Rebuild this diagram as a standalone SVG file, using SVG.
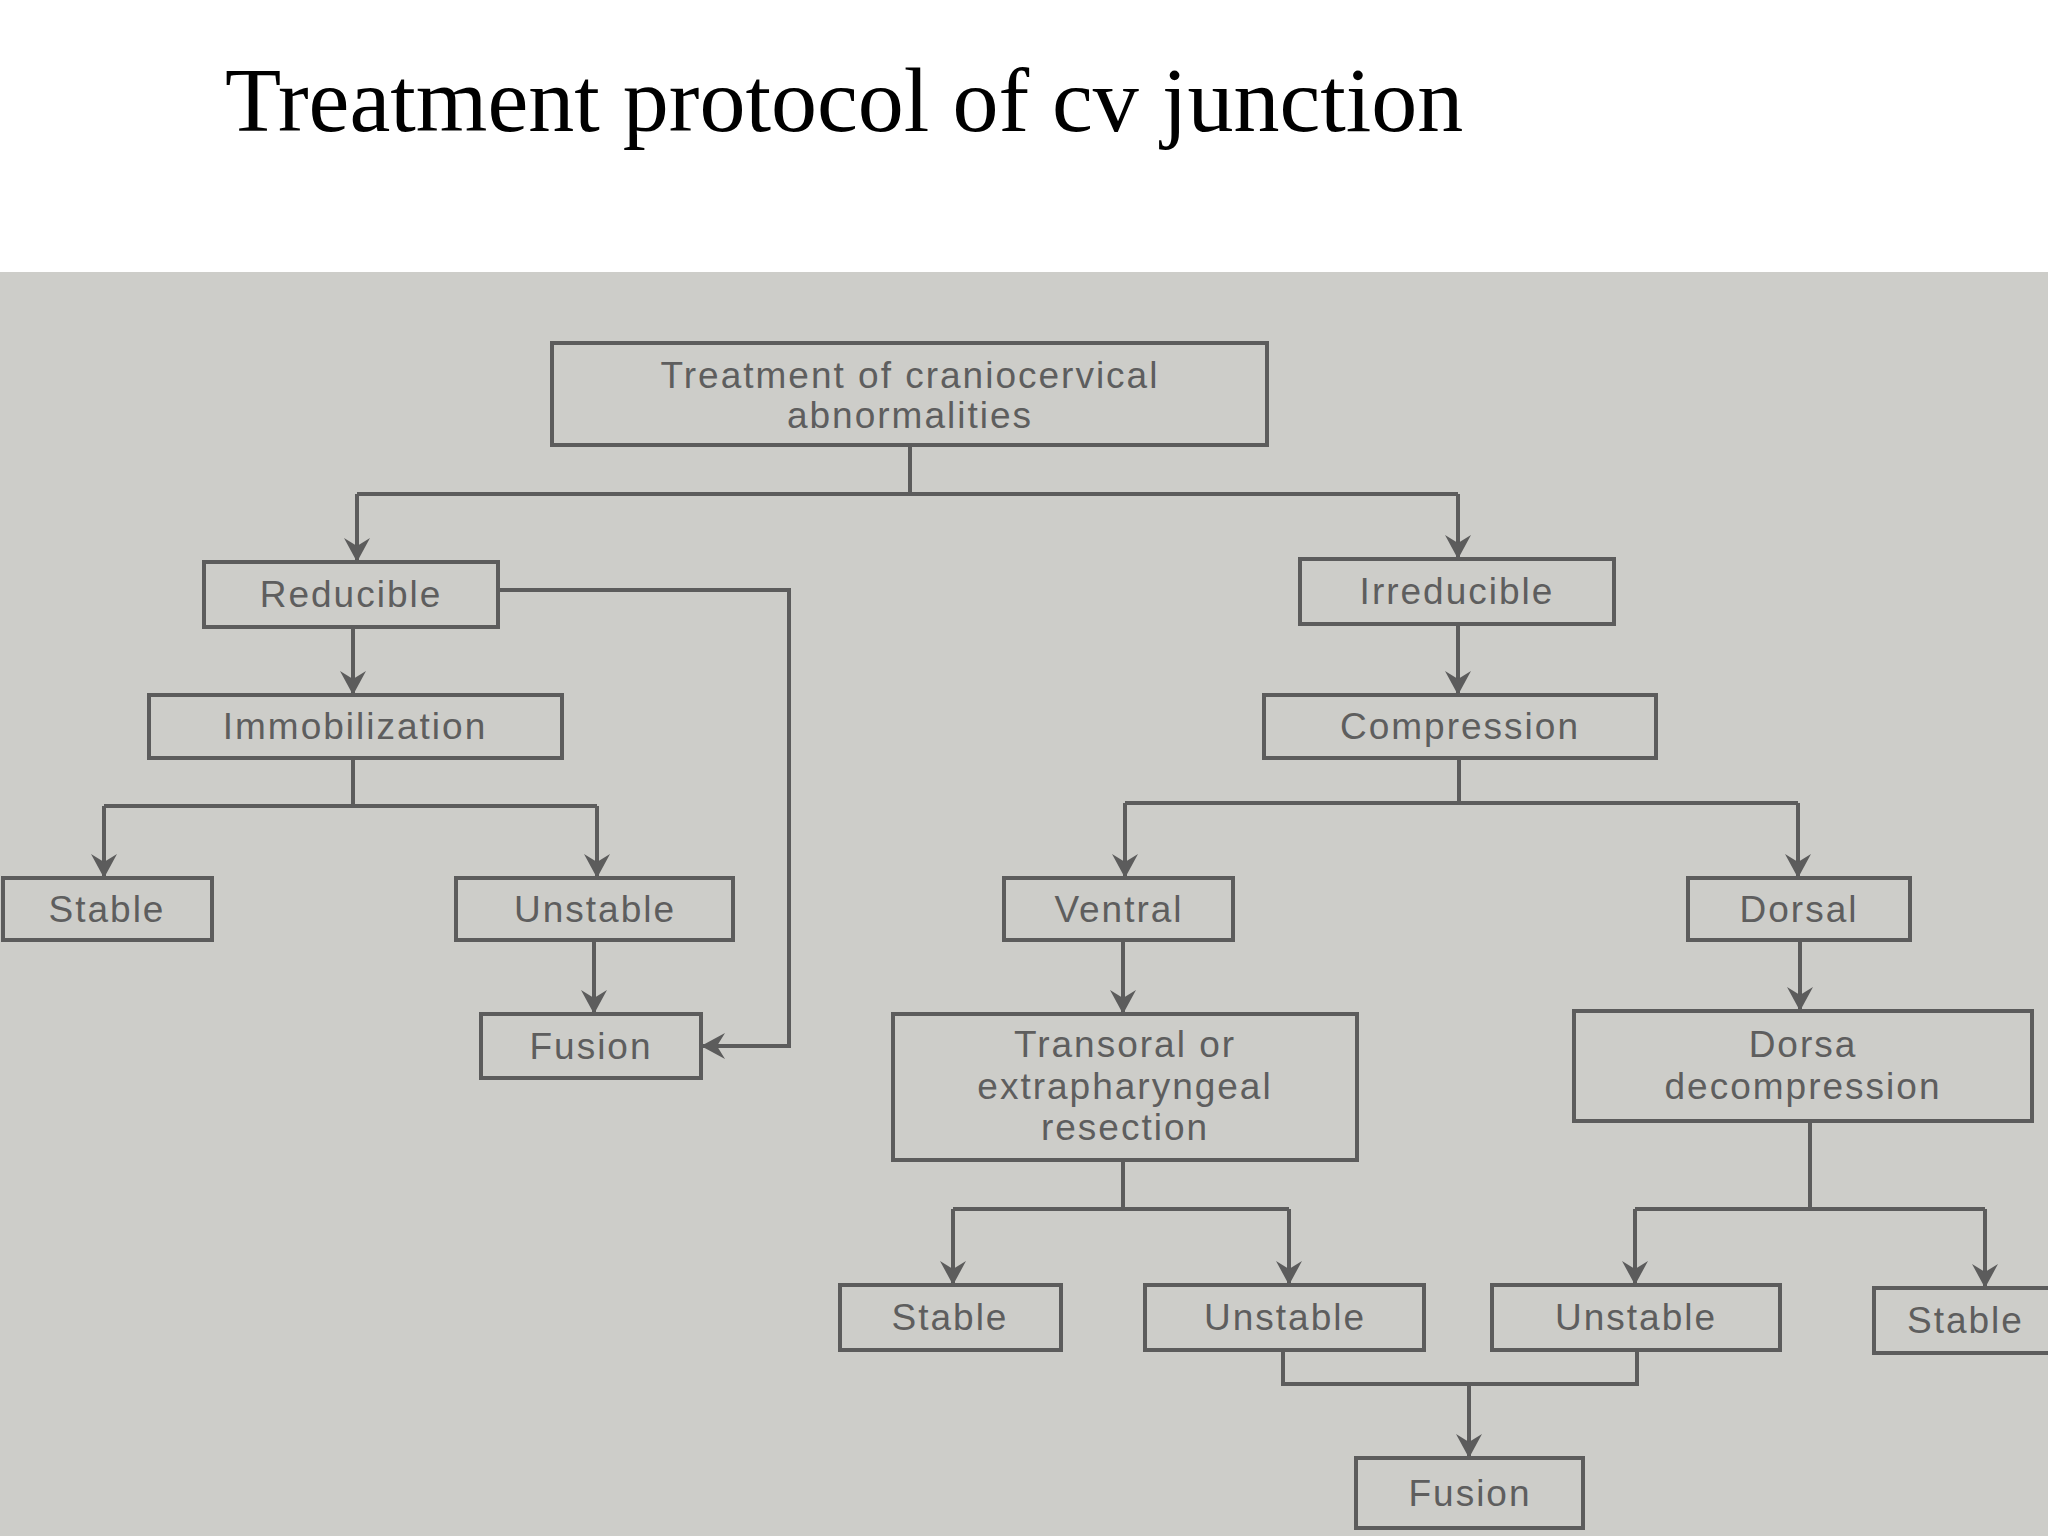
<svg xmlns="http://www.w3.org/2000/svg" width="2048" height="1536" viewBox="0 0 2048 1536">
<defs>
<style>
.b{fill:none;stroke:#5c5c5c;stroke-width:4}
.t{font-family:"Liberation Sans",Arial,sans-serif;font-size:37px;fill:#5e5e5e;text-anchor:middle;letter-spacing:2px}
.c{fill:none;stroke:#5c5c5c;stroke-width:4}
</style>
<marker id="a" viewBox="-20 -20 40 40" refX="0" refY="0" markerWidth="40" markerHeight="40" markerUnits="userSpaceOnUse" orient="auto" style="overflow:visible"><path d="M-22,-13 L2,0 L-22,13 L-14,0 Z" fill="#5c5c5c"/></marker>
</defs>
<rect width="2048" height="1536" fill="#ffffff"/>
<text x="225" y="131" font-family="Liberation Serif,serif" font-size="92" fill="#000" letter-spacing="0">Treatment protocol of cv junction</text>
<rect x="0" y="272" width="2048" height="1264" fill="#cdcdc9"/>
<g id="connectors">
<path class="c" d="M910,445V494M357,494H1458M357,494V560" marker-end="url(#a)"/>
<path class="c" d="M1458,494V557" marker-end="url(#a)"/>
<path class="c" d="M353,627V693" marker-end="url(#a)"/>
<path class="c" d="M1458,624V693" marker-end="url(#a)"/>
<path class="c" d="M498,590H789V1046H703" marker-end="url(#a)"/>
<path class="c" d="M353,758V806M104,806H597M104,806V876" marker-end="url(#a)"/>
<path class="c" d="M597,806V876" marker-end="url(#a)"/>
<path class="c" d="M594,940V1012" marker-end="url(#a)"/>
<path class="c" d="M1459,758V803M1125,803H1798M1125,803V876" marker-end="url(#a)"/>
<path class="c" d="M1798,803V876" marker-end="url(#a)"/>
<path class="c" d="M1123,940V1012" marker-end="url(#a)"/>
<path class="c" d="M1800,940V1009" marker-end="url(#a)"/>
<path class="c" d="M1123,1160V1209M953,1209H1289M953,1209V1283" marker-end="url(#a)"/>
<path class="c" d="M1289,1209V1283" marker-end="url(#a)"/>
<path class="c" d="M1810,1121V1209M1635,1209H1985M1635,1209V1283" marker-end="url(#a)"/>
<path class="c" d="M1985,1209V1286" marker-end="url(#a)"/>
<path class="c" d="M1283,1350V1384H1637V1350M1469,1384V1456" marker-end="url(#a)"/>
</g>
<g id="n1"><rect class="b" x="552" y="343" width="715" height="102"/><text class="t" x="910" y="388">Treatment of craniocervical</text><text class="t" x="910" y="428">abnormalities</text></g>
<g id="n2"><rect class="b" x="204" y="562" width="294" height="65"/><text class="t" x="351" y="607">Reducible</text></g>
<g id="n3"><rect class="b" x="1300" y="559" width="314" height="65"/><text class="t" x="1457" y="604">Irreducible</text></g>
<g id="n4"><rect class="b" x="149" y="695" width="413" height="63"/><text class="t" x="355" y="739">Immobilization</text></g>
<g id="n5"><rect class="b" x="1264" y="695" width="392" height="63"/><text class="t" x="1460" y="739">Compression</text></g>
<g id="n6"><rect class="b" x="3" y="878" width="209" height="62"/><text class="t" x="107" y="922">Stable</text></g>
<g id="n7"><rect class="b" x="456" y="878" width="277" height="62"/><text class="t" x="595" y="922">Unstable</text></g>
<g id="n8"><rect class="b" x="481" y="1014" width="220" height="64"/><text class="t" x="591" y="1059">Fusion</text></g>
<g id="n9"><rect class="b" x="1004" y="878" width="229" height="62"/><text class="t" x="1119" y="922">Ventral</text></g>
<g id="n10"><rect class="b" x="1688" y="878" width="222" height="62"/><text class="t" x="1799" y="922">Dorsal</text></g>
<g id="n11"><rect class="b" x="893" y="1014" width="464" height="146"/><text class="t" x="1125" y="1057">Transoral or</text><text class="t" x="1125" y="1099">extrapharyngeal</text><text class="t" x="1125" y="1140">resection</text></g>
<g id="n12"><rect class="b" x="1574" y="1011" width="458" height="110"/><text class="t" x="1803" y="1057">Dorsa</text><text class="t" x="1803" y="1099">decompression</text></g>
<g id="n13"><rect class="b" x="840" y="1285" width="221" height="65"/><text class="t" x="950" y="1330">Stable</text></g>
<g id="n14"><rect class="b" x="1145" y="1285" width="279" height="65"/><text class="t" x="1285" y="1330">Unstable</text></g>
<g id="n15"><rect class="b" x="1492" y="1285" width="288" height="65"/><text class="t" x="1636" y="1330">Unstable</text></g>
<g id="n16"><rect class="b" x="1874" y="1288" width="190" height="65"/><text class="t" x="1907" y="1333" style="text-anchor:start">Stable</text></g>
<g id="n17"><rect class="b" x="1356" y="1458" width="227" height="70"/><text class="t" x="1470" y="1506">Fusion</text></g>
</svg>
